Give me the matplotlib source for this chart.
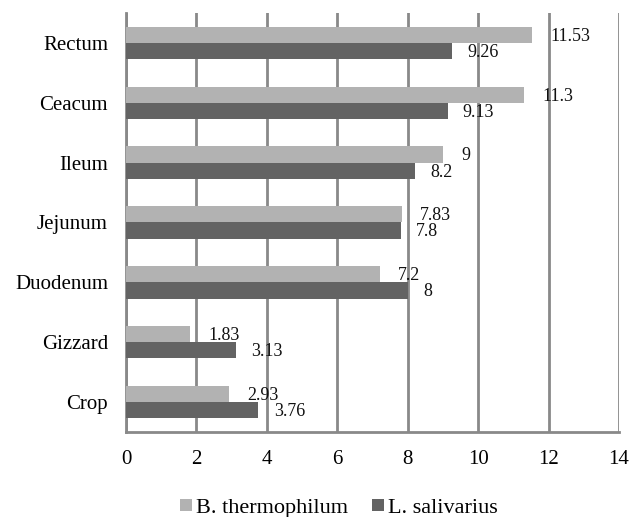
import matplotlib
matplotlib.use("Agg")
import matplotlib.pyplot as plt
import numpy as np

categories = ["Crop", "Gizzard", "Duodenum", "Jejunum", "Ileum", "Ceacum", "Rectum"]
b_thermophilum = [2.93, 1.83, 7.2, 7.83, 9, 11.3, 11.53]
l_salivarius = [3.76, 3.13, 8, 7.8, 8.2, 9.13, 9.26]
b_labels = ["2.93", "1.83", "7.2", "7.83", "9", "11.3", "11.53"]
l_labels = ["3.76", "3.13", "8", "7.8", "8.2", "9.13", "9.26"]
xticks = [0, 2, 4, 6, 8, 10, 12, 14]

plt.rcParams["font.family"] = ["Liberation Serif", "DejaVu Serif"]

fig = plt.figure(figsize=(6.32, 5.17), dpi=100)
ax = fig.add_axes([0.1994, 0.1644, 0.78, 0.8105])

light = "#b2b2b2"
dark = "#636363"
grid = "#898989"
h = 0.27
y = np.arange(len(categories))

ax.barh(y + h / 2, b_thermophilum, height=h, color=light, label="B. thermophilum", zorder=3)
ax.barh(y - h / 2, l_salivarius, height=h, color=dark, label="L. salivarius", zorder=3)

for yi, v, t in zip(y, b_thermophilum, b_labels):
    ax.annotate(t, (v, yi + h / 2), xytext=(13, -1), textcoords="offset points",
                ha="left", va="center", fontsize=13, color="#111111", zorder=4)
for yi, v, t in zip(y, l_salivarius, l_labels):
    ax.annotate(t, (v, yi - h / 2), xytext=(11, -1), textcoords="offset points",
                ha="left", va="center", fontsize=13, color="#111111", zorder=4)

ax.set_xlim(0, 14)
ax.set_ylim(-0.5, len(categories) - 0.5)
ax.set_xticks(xticks)
ax.set_xticklabels([str(t) for t in xticks], fontsize=15)
ax.set_yticks(y)
ax.set_yticklabels(categories, fontsize=15)
ax.tick_params(axis="both", length=0)
ax.tick_params(axis="x", pad=13)
ax.tick_params(axis="y", pad=13)

ax.grid(axis="x", color=grid, linewidth=2, zorder=1)
for s in ["top", "right"]:
    ax.spines[s].set_visible(False)
for s in ["left", "bottom"]:
    ax.spines[s].set_color(grid)
    ax.spines[s].set_linewidth(2)

fig.legend(*ax.get_legend_handles_labels(), loc="center left",
           bbox_to_anchor=(0.2848, 0.017), bbox_transform=fig.transFigure,
           ncol=2, frameon=False, fontsize=16, borderpad=0, borderaxespad=0,
           handlelength=0.55, handleheight=0.5, handletextpad=0.15,
           columnspacing=1.1)

fig.savefig("out.png", dpi=100)
